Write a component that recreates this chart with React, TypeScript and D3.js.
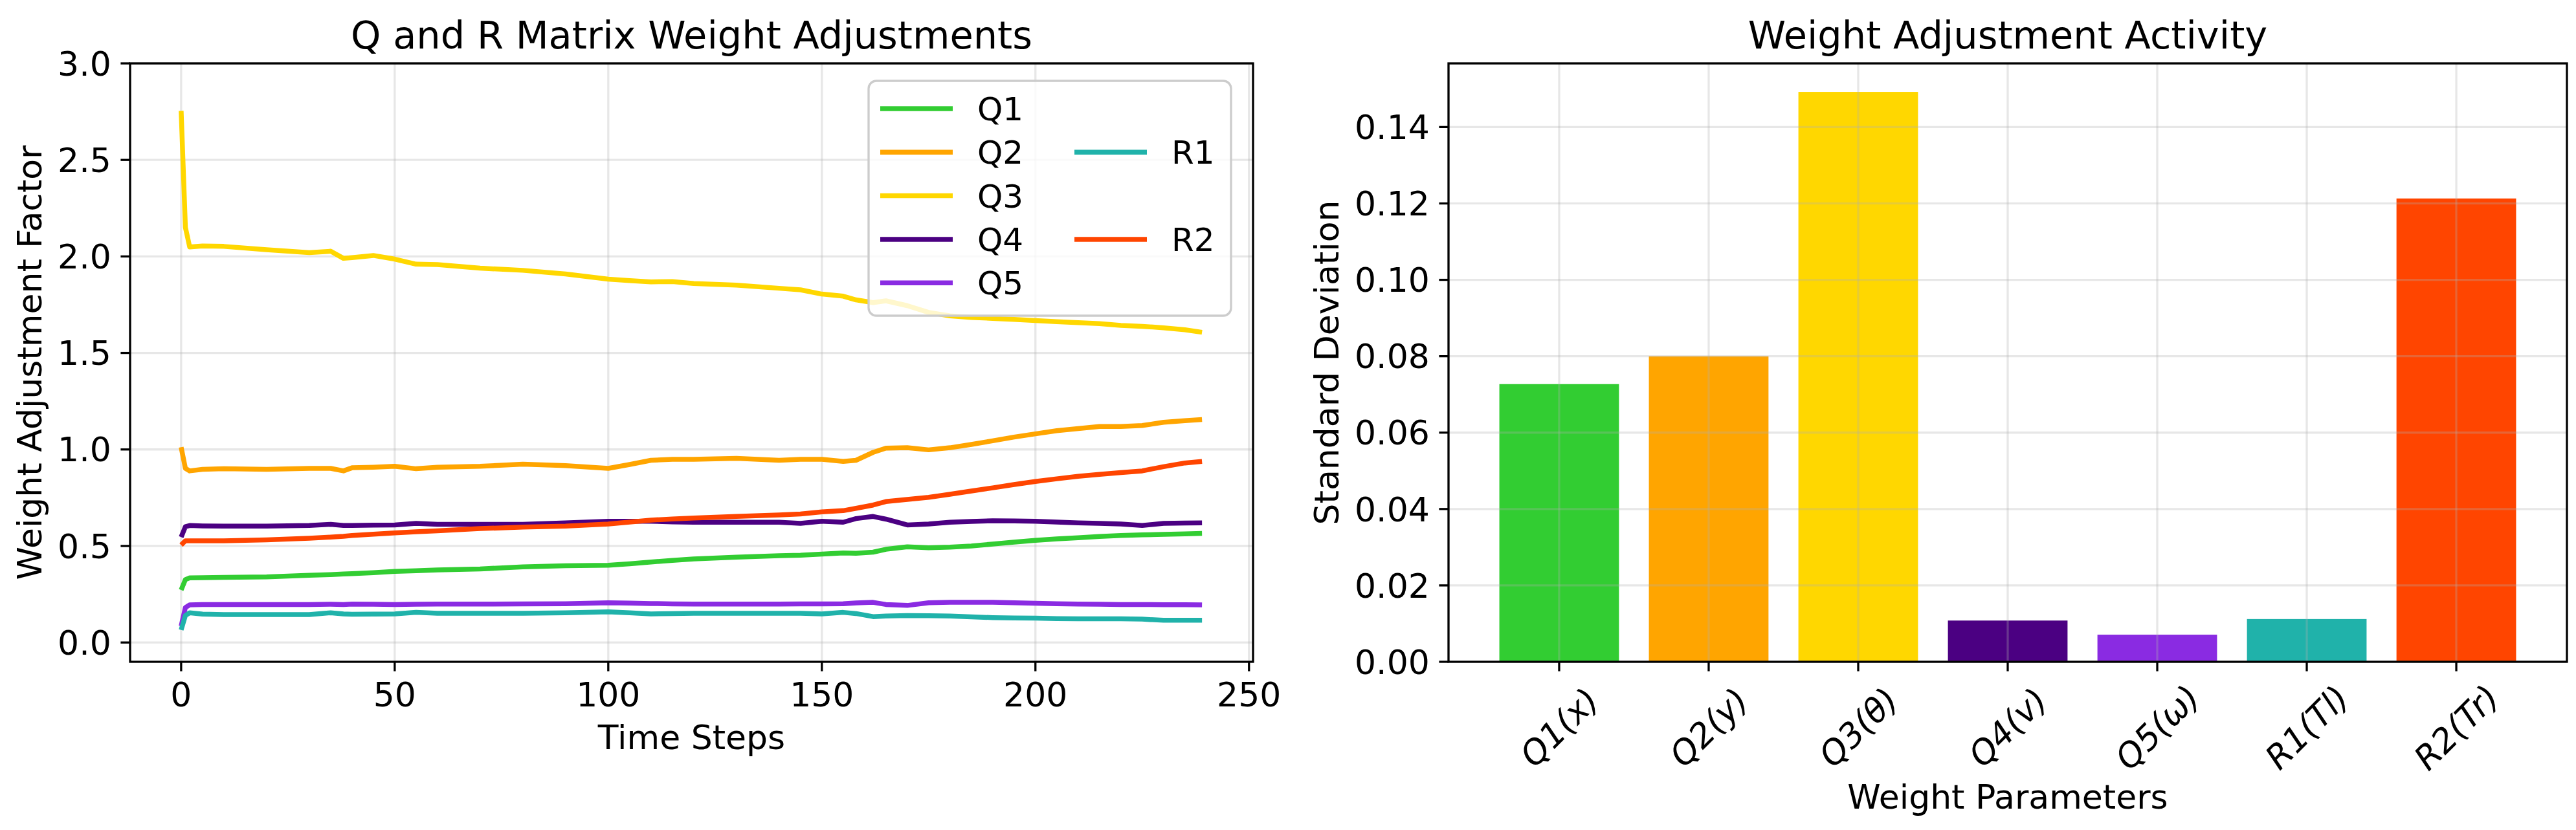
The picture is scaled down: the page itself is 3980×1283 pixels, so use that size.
import React, { useEffect } from "react";
import * as d3 from "d3";

// ---------- data ----------
const steps = [0, 1, 2, 5, 10, 20, 30, 35, 38, 40, 45, 50, 55, 60, 70, 80, 90, 100, 105, 110, 115, 120, 130, 140, 145, 150, 155, 158, 162, 165, 170, 175, 180, 185, 190, 195, 200, 205, 210, 215, 220, 225, 230, 235, 239];

const q1 = [0.272, 0.326, 0.335, 0.336, 0.337, 0.340, 0.348, 0.352, 0.355, 0.357, 0.362, 0.368, 0.372, 0.376, 0.381, 0.392, 0.398, 0.400, 0.408, 0.417, 0.425, 0.433, 0.442, 0.450, 0.452, 0.458, 0.464, 0.462, 0.468, 0.483, 0.496, 0.491, 0.494, 0.500, 0.510, 0.520, 0.529, 0.537, 0.543, 0.549, 0.554, 0.558, 0.560, 0.563, 0.565];
const q2 = [1.012, 0.902, 0.889, 0.897, 0.900, 0.897, 0.902, 0.902, 0.889, 0.905, 0.908, 0.913, 0.900, 0.908, 0.913, 0.924, 0.916, 0.902, 0.922, 0.944, 0.949, 0.949, 0.954, 0.944, 0.949, 0.949, 0.938, 0.944, 0.985, 1.007, 1.009, 0.998, 1.009, 1.026, 1.045, 1.064, 1.081, 1.097, 1.108, 1.119, 1.119, 1.124, 1.141, 1.149, 1.155];
const q3 = [2.754, 2.150, 2.049, 2.054, 2.052, 2.035, 2.020, 2.027, 1.990, 1.994, 2.005, 1.986, 1.960, 1.958, 1.939, 1.928, 1.909, 1.882, 1.875, 1.868, 1.870, 1.860, 1.851, 1.835, 1.827, 1.805, 1.794, 1.775, 1.761, 1.770, 1.745, 1.710, 1.692, 1.684, 1.679, 1.674, 1.668, 1.662, 1.657, 1.652, 1.643, 1.638, 1.630, 1.620, 1.607];
const q4 = [0.546, 0.600, 0.606, 0.604, 0.603, 0.603, 0.606, 0.612, 0.606, 0.606, 0.608, 0.609, 0.617, 0.612, 0.612, 0.612, 0.620, 0.628, 0.628, 0.628, 0.625, 0.623, 0.623, 0.623, 0.617, 0.628, 0.623, 0.642, 0.653, 0.639, 0.609, 0.614, 0.623, 0.627, 0.631, 0.630, 0.628, 0.624, 0.620, 0.617, 0.614, 0.606, 0.617, 0.619, 0.620];
const q5 = [0.085, 0.181, 0.195, 0.197, 0.197, 0.197, 0.197, 0.198, 0.197, 0.199, 0.198, 0.197, 0.198, 0.199, 0.199, 0.200, 0.201, 0.206, 0.204, 0.202, 0.200, 0.199, 0.199, 0.199, 0.200, 0.200, 0.201, 0.205, 0.208, 0.197, 0.192, 0.206, 0.208, 0.208, 0.208, 0.206, 0.203, 0.201, 0.199, 0.198, 0.197, 0.197, 0.196, 0.196, 0.195];
const r1 = [0.065, 0.140, 0.154, 0.147, 0.145, 0.145, 0.145, 0.154, 0.148, 0.146, 0.147, 0.148, 0.156, 0.151, 0.151, 0.151, 0.154, 0.159, 0.154, 0.148, 0.150, 0.151, 0.151, 0.151, 0.151, 0.148, 0.156, 0.150, 0.134, 0.137, 0.140, 0.139, 0.137, 0.133, 0.129, 0.127, 0.126, 0.124, 0.123, 0.123, 0.123, 0.121, 0.115, 0.115, 0.115];
const r2 = [0.505, 0.527, 0.527, 0.527, 0.527, 0.532, 0.540, 0.546, 0.550, 0.554, 0.561, 0.568, 0.574, 0.579, 0.590, 0.598, 0.603, 0.614, 0.624, 0.634, 0.640, 0.645, 0.653, 0.661, 0.666, 0.677, 0.683, 0.695, 0.712, 0.730, 0.741, 0.752, 0.768, 0.785, 0.801, 0.818, 0.834, 0.848, 0.861, 0.871, 0.880, 0.889, 0.911, 0.930, 0.938];

const seriesNames = ["Q1", "Q2", "Q3", "Q4", "Q5", "R1", "R2"];
const seriesValues = [q1, q2, q3, q4, q5, r1, r2];
const seriesColors = ["#32CD32", "#FFA500", "#FFD700", "#4B0082", "#8A2BE2", "#20B2AA", "#FF4500"];

const barCategories = ["Q1(x)", "Q2(y)", "Q3(θ)", "Q4(v)", "Q5(ω)", "R1(Tl)", "R2(Tr)"];
const barValues = [0.0727, 0.0800, 0.1492, 0.0108, 0.0071, 0.0112, 0.1213];

const leftXTicks = [0, 50, 100, 150, 200, 250];
const leftYTicks = [0.0, 0.5, 1.0, 1.5, 2.0, 2.5, 3.0];
const rightYTicks = [0.0, 0.02, 0.04, 0.06, 0.08, 0.1, 0.12, 0.14];

// legend layout: [column, row] per series
const legendSlots = [[0, 0], [0, 1], [0, 2], [0, 3], [0, 4], [1, 1], [1, 3]];

const FONT = "DejaVu Sans, sans-serif";
const TICK_FS = 52;
const LABEL_FS = 52;
const TITLE_FS = 59;
const SPINE = 3.3;
const TICK_LEN = 14.6;
const GRID = "#b0b0b0";
const LW = 7.5;

export default function App() {
  useEffect(() => {
    document.body.style.margin = "0";
  }, []);

  // ---------- left chart ----------
  const L = { left: 201, right: 1936, top: 98, bottom: 1023 };
  const lx = d3.scaleLinear().domain([-11.95, 250.95]).range([L.left, L.right]);
  const ly = d3.scaleLinear().domain([-0.1, 3.0]).range([L.bottom, L.top]);
  const line = d3
    .line<number>()
    .x((_, i) => lx(steps[i]))
    .y((d) => ly(d));

  // ---------- right chart ----------
  const R = { left: 2238, right: 3966, top: 98, bottom: 1023 };
  const rx = d3
    .scaleBand<string>()
    .domain(barCategories)
    .range([R.left, R.right])
    .paddingInner(0.2)
    .paddingOuter(0.34);
  const rMax = (d3.max(barValues) as number) * 1.05;
  const ry = d3.scaleLinear().domain([0, rMax]).range([R.bottom, R.top]);
  const fmt2 = d3.format(".2f");
  const fmt1 = d3.format(".1f");

  const legend = { x: 1342, y: 125, w: 560, h: 363, row0: 168, rowStep: 67.3, col: [1360, 1660], lineLen: 112, textGap: 38 };

  return (
    <svg
      width={3980}
      height={1283}
      viewBox="0 0 3980 1283"
      style={{ display: "block", position: "absolute", left: 0, top: 0, background: "#fff" }}
      fontFamily={FONT}
    >
      <rect x={0} y={0} width={3980} height={1283} fill="#fff" />

      {/* ===== Left chart ===== */}
      <g>
        {leftXTicks.map((t) => (
          <line key={"lgx" + t} x1={lx(t)} x2={lx(t)} y1={L.top} y2={L.bottom} stroke={GRID} strokeOpacity={0.3} strokeWidth={3.3} />
        ))}
        {leftYTicks.map((t) => (
          <line key={"lgy" + t} x1={L.left} x2={L.right} y1={ly(t)} y2={ly(t)} stroke={GRID} strokeOpacity={0.3} strokeWidth={3.3} />
        ))}
        <defs>
          <clipPath id="lclip">
            <rect x={L.left} y={L.top} width={L.right - L.left} height={L.bottom - L.top} />
          </clipPath>
        </defs>
        <g clipPath="url(#lclip)">
          {seriesValues.map((vals, i) => (
            <path
              key={"ln" + i}
              d={line(vals) as string}
              fill="none"
              stroke={seriesColors[i]}
              strokeWidth={LW}
              strokeLinejoin="round"
              strokeLinecap="butt"
            />
          ))}
        </g>
        <rect
          x={legend.x}
          y={legend.y}
          width={legend.w}
          height={legend.h}
          rx={12}
          ry={12}
          fill="#fff"
          fillOpacity={0.8}
          stroke="#cccccc"
          strokeWidth={3.3}
        />
        {seriesNames.map((name, i) => {
          const [c, r] = legendSlots[i];
          const x0 = legend.col[c];
          const y0 = legend.row0 + r * legend.rowStep;
          return (
            <g key={"lg" + name}>
              <line x1={x0} x2={x0 + legend.lineLen} y1={y0} y2={y0} stroke={seriesColors[i]} strokeWidth={LW} />
              <text x={x0 + legend.lineLen + legend.textGap} y={y0} dy="0.36em" fontSize={50} fill="#000">
                {name}
              </text>
            </g>
          );
        })}
        <rect x={L.left} y={L.top} width={L.right - L.left} height={L.bottom - L.top} fill="none" stroke="#000" strokeWidth={SPINE} />
        {leftXTicks.map((t) => (
          <g key={"lxt" + t}>
            <line x1={lx(t)} x2={lx(t)} y1={L.bottom} y2={L.bottom + TICK_LEN} stroke="#000" strokeWidth={SPINE} />
            <text x={lx(t)} y={1092} textAnchor="middle" fontSize={TICK_FS} fill="#000">
              {t}
            </text>
          </g>
        ))}
        {leftYTicks.map((t) => (
          <g key={"lyt" + t}>
            <line x1={L.left - TICK_LEN} x2={L.left} y1={ly(t)} y2={ly(t)} stroke="#000" strokeWidth={SPINE} />
            <text x={L.left - TICK_LEN - 14.6} y={ly(t)} dy="0.36em" textAnchor="end" fontSize={TICK_FS} fill="#000">
              {fmt1(t)}
            </text>
          </g>
        ))}
        <text x={(L.left + L.right) / 2} y={1158} textAnchor="middle" fontSize={LABEL_FS} fill="#000">
          Time Steps
        </text>
        <text
          transform={`translate(64, ${(L.top + L.bottom) / 2}) rotate(-90)`}
          textAnchor="middle"
          fontSize={LABEL_FS}
          fill="#000"
        >
          Weight Adjustment Factor
        </text>
        <text x={(L.left + L.right) / 2} y={75} textAnchor="middle" fontSize={TITLE_FS} fill="#000">
          Q and R Matrix Weight Adjustments
        </text>
      </g>

      {/* ===== Right chart ===== */}
      <g>
        {barCategories.map((c, i) => (
          <rect
            key={"bar" + c}
            x={rx(c) as number}
            y={ry(barValues[i])}
            width={rx.bandwidth()}
            height={R.bottom - ry(barValues[i])}
            fill={seriesColors[i]}
          />
        ))}
        {barCategories.map((c) => {
          const cx = (rx(c) as number) + rx.bandwidth() / 2;
          return <line key={"rgx" + c} x1={cx} x2={cx} y1={R.top} y2={R.bottom} stroke={GRID} strokeOpacity={0.3} strokeWidth={3.3} />;
        })}
        {rightYTicks.map((t) => (
          <line key={"rgy" + t} x1={R.left} x2={R.right} y1={ry(t)} y2={ry(t)} stroke={GRID} strokeOpacity={0.3} strokeWidth={3.3} />
        ))}
        <rect x={R.left} y={R.top} width={R.right - R.left} height={R.bottom - R.top} fill="none" stroke="#000" strokeWidth={SPINE} />
        {barCategories.map((c) => {
          const cx = (rx(c) as number) + rx.bandwidth() / 2;
          return (
            <g key={"rxt" + c}>
              <line x1={cx} x2={cx} y1={R.bottom} y2={R.bottom + TICK_LEN} stroke="#000" strokeWidth={SPINE} />
              <text
                transform={`translate(${cx}, 1124) rotate(-45)`}
                textAnchor="middle"
                dy="0.36em"
                fontSize={52}
                fontStyle="italic"
                fill="#000"
              >
                {c}
              </text>
            </g>
          );
        })}
        {rightYTicks.map((t) => (
          <g key={"ryt" + t}>
            <line x1={R.left - TICK_LEN} x2={R.left} y1={ry(t)} y2={ry(t)} stroke="#000" strokeWidth={SPINE} />
            <text x={R.left - TICK_LEN - 14.6} y={ry(t)} dy="0.36em" textAnchor="end" fontSize={TICK_FS} fill="#000">
              {fmt2(t)}
            </text>
          </g>
        ))}
        <text x={(R.left + R.right) / 2} y={1250} textAnchor="middle" fontSize={LABEL_FS} fill="#000">
          Weight Parameters
        </text>
        <text
          transform={`translate(2068, ${(R.top + R.bottom) / 2}) rotate(-90)`}
          textAnchor="middle"
          fontSize={LABEL_FS}
          fill="#000"
        >
          Standard Deviation
        </text>
        <text x={(R.left + R.right) / 2} y={75} textAnchor="middle" fontSize={TITLE_FS} fill="#000">
          Weight Adjustment Activity
        </text>
      </g>
    </svg>
  );
}
